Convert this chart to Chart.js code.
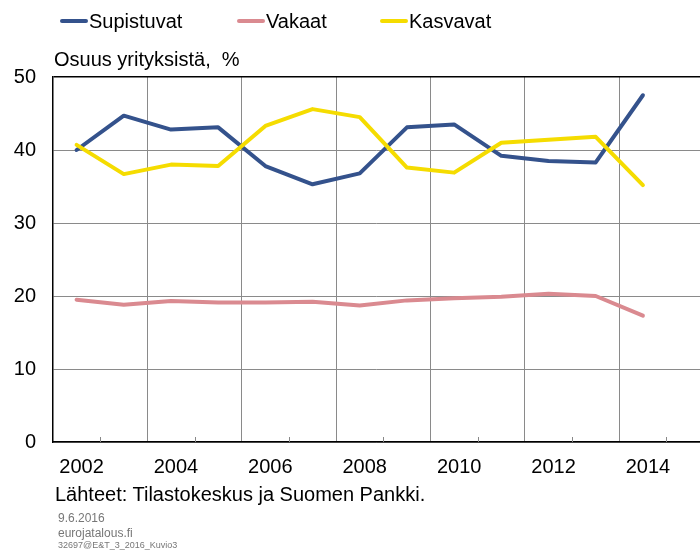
<!DOCTYPE html>
<html>
<head>
<meta charset="utf-8">
<script src="https://cdn.jsdelivr.net/npm/chart.js@4"></script>
<style>
  body { margin: 0; background: #fff; font-family: "Liberation Sans", Arial, sans-serif; }
  #wrap { position: relative; width: 700px; height: 551px; overflow: hidden; }
  #chart { position: absolute; left: 0; top: 0; }
  .txt { position: absolute; white-space: pre; color: #000; }
  .key { position: absolute; top: 9px; font-size: 20px; line-height: 24px; white-space: pre; }
  .key span { display: inline-block; width: 28px; height: 4px; border-radius: 2px; vertical-align: middle; margin-right: 1px; position: relative; top: -2px; }
</style>
</head>
<body>
<div id="wrap">
  <canvas id="chart" width="700" height="551"></canvas>
  <div class="key" style="left:60px"><span style="background:#34528c"></span>Supistuvat</div>
  <div class="key" style="left:237px"><span style="background:#da8a90"></span>Vakaat</div>
  <div class="key" style="left:380px"><span style="background:#f5dc00"></span>Kasvavat</div>
  <div class="txt" style="left:54px; top:48px; font-size:20px;">Osuus yrityksistä,  %</div>
  <div class="txt" style="left:55px; top:483px; font-size:20px;">Lähteet: Tilastokeskus ja Suomen Pankki.</div>
  <div class="txt" style="left:58px; top:511px; font-size:12px; color:#777;">9.6.2016</div>
  <div class="txt" style="left:58px; top:526px; font-size:12px; color:#777;">eurojatalous.fi</div>
  <div class="txt" style="left:58px; top:540px; font-size:9px; color:#777;">32697@E&amp;T_3_2016_Kuvio3</div>
</div>
<script>
const years = [2002, 2003, 2004, 2005, 2006, 2007, 2008, 2009, 2010, 2011, 2012, 2013, 2014];
const supistuvat = [40.0, 44.7, 42.8, 43.1, 37.8, 35.3, 36.8, 43.1, 43.5, 39.2, 38.5, 38.3, 47.5];
const vakaat = [19.5, 18.8, 19.3, 19.1, 19.1, 19.2, 18.7, 19.4, 19.7, 19.9, 20.3, 20.0, 17.3];
const kasvavat = [40.7, 36.7, 38.0, 37.8, 43.3, 45.6, 44.5, 37.6, 36.9, 41.0, 41.4, 41.8, 35.2];
const yearLabels = [2002, 2004, 2006, 2008, 2010, 2012, 2014];
const gridYears = [2003.5, 2005.5, 2007.5, 2009.5, 2011.5, 2013.5];
const minorYears = [2002.5, 2004.5, 2006.5, 2008.5, 2010.5, 2012.5, 2014.5];

const pts = (vals) => vals.map((v, i) => ({ x: years[i], y: v }));

// small upward tick marks on the x axis
const minorTicks = {
    id: 'minorTicks',
    afterDraw(chart) {
        const ctx = chart.ctx;
        const x = chart.scales.x;
        const bottom = chart.chartArea.bottom;
        ctx.save();
        ctx.strokeStyle = '#888';
        ctx.lineWidth = 1;
        minorYears.forEach(v => {
            const px = Math.round(x.getPixelForValue(v)) + 0.5;
            ctx.beginPath();
            ctx.moveTo(px, bottom);
            ctx.lineTo(px, bottom - 5);
            ctx.stroke();
        });
        ctx.restore();
    }
};

const ctx = document.getElementById('chart').getContext('2d');
new Chart(ctx, {
    type: 'line',
    data: {
        datasets: [
            { label: 'Supistuvat', data: pts(supistuvat), borderColor: '#34528c', order: 2 },
            { label: 'Vakaat', data: pts(vakaat), borderColor: '#da8a90', order: 1 },
            { label: 'Kasvavat', data: pts(kasvavat), borderColor: '#f5dc00', order: 0 }
        ]
    },
    options: {
        responsive: false,
        animation: false,
        layout: { padding: { top: 77, right: 0, left: 0, bottom: 0 } },
        elements: {
            line: { borderWidth: 4, tension: 0, borderCapStyle: 'round', borderJoinStyle: 'round', fill: false },
            point: { radius: 0 }
        },
        plugins: {
            legend: { display: false },
            tooltip: { enabled: false }
        },
        scales: {
            x: {
                type: 'linear',
                min: 2001.5,
                max: 2015.21,
                afterBuildTicks: (scale) => {
                    scale.ticks = yearLabels.concat(gridYears).map(v => ({ value: v }));
                },
                afterFit: (scale) => { scale.height = 109; },
                ticks: {
                    autoSkip: false,
                    maxRotation: 0,
                    padding: 13,
                    labelOffset: 5,
                    color: '#000',
                    font: { family: '"Liberation Sans", Arial, sans-serif', size: 20 },
                    callback: (v) => Number.isInteger(v) ? String(v) : ''
                },
                grid: {
                    drawTicks: false,
                    color: (c) => (c.tick && !Number.isInteger(c.tick.value)) ? '#8a8a8a' : 'rgba(0,0,0,0)'
                },
                border: { display: true, color: '#000', width: 1.5 }
            },
            y: {
                min: 0,
                max: 50,
                afterFit: (scale) => { scale.width = 53; },
                ticks: {
                    stepSize: 10,
                    padding: 17,
                    color: '#000',
                    font: { family: '"Liberation Sans", Arial, sans-serif', size: 20 }
                },
                grid: {
                    drawTicks: false,
                    color: (c) => c.tick.value === 50 ? '#000' : '#8a8a8a',
                    lineWidth: (c) => c.tick.value === 50 ? 1.5 : 1
                },
                border: { display: true, color: '#000', width: 1.5 }
            }
        }
    },
    plugins: [minorTicks]
});
</script>
</body>
</html>
